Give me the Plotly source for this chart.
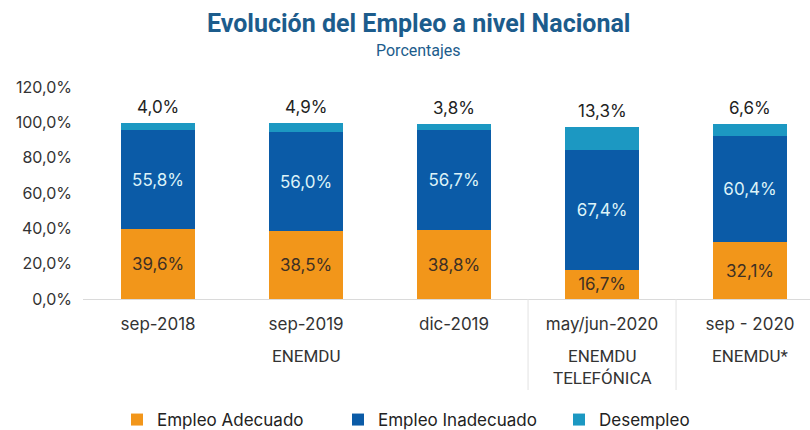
import plotly.graph_objects as go

categories = ["sep-2018", "sep-2019", "dic-2019", "may/jun-2020", "sep - 2020"]
adecuado = [39.6, 38.5, 38.8, 16.7, 32.1]
inadecuado = [55.8, 56.0, 56.7, 67.4, 60.4]
desempleo = [4.0, 4.9, 3.8, 13.3, 6.6]
groups = [("ENEMDU", 1), ("ENEMDU<br>TELEFÓNICA", 3), ("ENEMDU*", 4)]
separators_at = [2.5, 3.5]

C_ORANGE = "#F2961A"
C_BLUE = "#0B5BA7"
C_TEAL = "#1C98C2"
TITLE_C = "#1C5C8C"
FONT = "Inter, Open Sans, sans-serif"
TFONT = "Roboto, Liberation Sans, sans-serif"

PLOT_TOP, PLOT_BOTTOM, PLOT_LEFT = 87, 299, 83
PLOT_H = PLOT_BOTTOM - PLOT_TOP
PLOT_W = 810 - PLOT_LEFT


def py(pixel_y):
    return (PLOT_BOTTOM - pixel_y) / PLOT_H


def px(pixel_x):
    return (pixel_x - PLOT_LEFT) / PLOT_W


fig = go.Figure()
fig.add_trace(go.Bar(
    name="Empleo Adecuado", x=categories, y=adecuado, marker_color=C_ORANGE,
    texttemplate="%{y:.1f}%", textposition="inside", insidetextanchor="middle",
    textangle=0, textfont=dict(family=FONT, size=17, color="#3E3024"),
    marker_line_width=0,
))
fig.add_trace(go.Bar(
    name="Empleo Inadecuado", x=categories, y=inadecuado, marker_color=C_BLUE,
    texttemplate="%{y:.1f}%", textposition="inside", insidetextanchor="middle",
    textangle=0, textfont=dict(family=FONT, size=17, color="#DDF3F8"),
    marker_line_width=0,
))
fig.add_trace(go.Bar(
    name="Desempleo", x=categories, y=desempleo, marker_color=C_TEAL,
    textposition="none", marker_line_width=0,
))

annotations = []
for cat, a, b, d in zip(categories, adecuado, inadecuado, desempleo):
    total = a + b + d
    annotations.append(dict(
        x=cat, y=total, xref="x", yref="y", text=f"{d:.1f}".replace(".", ",") + "%",
        showarrow=False, yanchor="bottom", yshift=4,
        font=dict(family=FONT, size=17, color="#222222"),
    ))
for label, idx in groups:
    annotations.append(dict(
        x=categories[idx], y=py(344), xref="x", yref="paper", text=label,
        showarrow=False, yanchor="top", align="center",
        font=dict(family=TFONT, size=17, color="#333333"),
    ))
annotations.append(dict(
    x=px(418), y=py(50), xref="paper", yref="paper", text="Porcentajes",
    showarrow=False, yanchor="middle", xanchor="center",
    font=dict(family=TFONT, size=16, color=TITLE_C),
))
annotations.append(dict(
    x=px(418), y=py(24), xref="paper", yref="paper",
    text="<b>Evolución del Empleo a nivel Nacional</b>",
    showarrow=False, yanchor="middle", xanchor="center",
    font=dict(family=TFONT, size=25, color=TITLE_C),
))

shapes = []
for sx in separators_at:
    shapes.append(dict(
        type="line", xref="x", yref="paper", x0=sx, x1=sx, y0=0, y1=py(390),
        line=dict(color="#E2E2E2", width=1),
    ))

fig.update_layout(
    width=810, height=430,
    barmode="stack", bargap=0.5,
    separators=",.",
    paper_bgcolor="white", plot_bgcolor="white",
    margin=dict(l=PLOT_LEFT, r=0, t=PLOT_TOP, b=430 - PLOT_BOTTOM, autoexpand=False),
    font=dict(family=FONT, size=15, color="#333333"),
    xaxis=dict(
        range=[-0.507, 4.405], showgrid=False, showline=True,
        linecolor="#DADADA", linewidth=1, ticks="",
        tickfont=dict(family=FONT, size=17, color="#333333"),
        ticklabelstandoff=10,
    ),
    yaxis=dict(
        range=[0, 120], dtick=20, tickformat=".1f", ticksuffix="%",
        showgrid=False, zeroline=False, showline=False,
        tickfont=dict(family=FONT, size=16, color="#333333"),
        ticklabelstandoff=10,
    ),
    legend=dict(
        orientation="h", x=px(117), xanchor="left", y=py(402), yanchor="top",
        font=dict(family=FONT, size=17, color="#222222"),
        traceorder="normal", itemwidth=30, entrywidth=176,
    ),
    annotations=annotations,
    shapes=shapes,
)

fig.write_html(
    "out.html",
    config={"displayModeBar": False},
    post_script="document.body.style.margin='0';document.body.style.overflow='hidden';",
)
